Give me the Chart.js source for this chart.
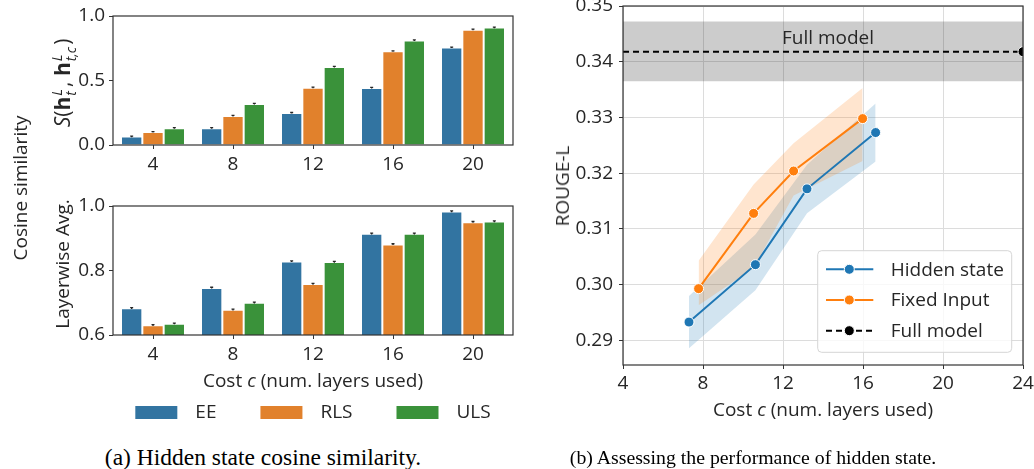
<!DOCTYPE html>
<html>
<head>
<meta charset="utf-8">
<script src="https://cdn.jsdelivr.net/npm/chart.js@4.4.1/dist/chart.umd.min.js"></script>
<style>
  body { margin: 0; width: 1034px; height: 469px; position: relative; overflow: hidden; background: #fff; color: #262626; font-family: 'Open Sans', sans-serif; }
  canvas { position: absolute; }
  .lbl { position: absolute; white-space: nowrap; font-size: 19px; transform: translate(-50%, -50%); }
  .rot { transform: translate(-50%, -50%) rotate(-90deg); }
  .cap { font-family: 'Liberation Serif', serif; color: #000; }
  .math { font-size: 21px; }
  .ss { display: inline-block; vertical-align: middle; font-size: 14px; line-height: 14px; text-align: left; margin-left: 1px; margin-right: 2px; }
  .ss i { display: block; }
</style>
</head>
<body>
<canvas id="simChart" width="530" height="175" style="left:0;top:0"></canvas>
<canvas id="layerChart" width="530" height="240" style="left:0;top:190px"></canvas>
<canvas id="rougeChart" width="494" height="469" style="left:540px;top:0"></canvas>

<div class="lbl rot" style="left:20px;top:188px">Cosine similarity</div>
<div class="lbl rot math" style="left:63px;top:83px"><i>S</i>(<b>h</b><span class="ss"><i>L</i><i>t</i></span>, <b>h</b><span class="ss"><i>L</i><i>t,c</i></span>)</div>
<div class="lbl rot" style="left:62px;top:264px">Layerwise Avg.</div>
<div class="lbl" style="left:313px;top:380px">Cost <i>c</i> (num. layers used)</div>
<div class="lbl rot" style="left:562px;top:186px">ROUGE-L</div>
<div class="lbl" style="left:823px;top:409px">Cost <i>c</i> (num. layers used)</div>
<div class="lbl cap" style="left:263px;top:457px;font-size:23.5px">(a) Hidden state cosine similarity.</div>
<div class="lbl cap" style="left:753px;top:457px;font-size:19.8px">(b) Assessing the performance of hidden state.</div>

<script>
// left panel: bars per cost
const costs = ['4', '8', '12', '16', '20']
const methods = ['EE', 'RLS', 'ULS']
const methodColors = ['#3274a1', '#e1812c', '#3a923a']

const simEE = [0.065, 0.13, 0.248, 0.442, 0.755]
const simRLS = [0.10, 0.225, 0.444, 0.726, 0.894]
const simULS = [0.13, 0.318, 0.605, 0.811, 0.91]
const simErr = [0.004, 0.004, 0.004, 0.004, 0.004]
const simTicks = [0, 0.5, 1.0]

const layerEE = [0.683, 0.746, 0.828, 0.914, 0.983]
const layerRLS = [0.630, 0.678, 0.758, 0.881, 0.950]
const layerULS = [0.635, 0.700, 0.826, 0.914, 0.952]
const layerErr = [0.002, 0.002, 0.002, 0.002, 0.002]
const layerTicks = [0.6, 0.8, 1.0]

// right panel: ROUGE-L vs cost
const hiddenCost = [7.3, 10.62, 13.2, 16.63]
const hiddenRouge = [0.2933, 0.3036, 0.3172, 0.3273]
const hiddenLow = [0.2886, 0.2990, 0.3128, 0.3221]
const hiddenHigh = [0.2980, 0.3090, 0.3215, 0.3325]

const fixedCost = [7.78, 10.53, 12.53, 15.98]
const fixedRouge = [0.2993, 0.3128, 0.3204, 0.3298]
const fixedLow = [0.2963, 0.3030, 0.3160, 0.3222]
const fixedHigh = [0.3043, 0.3180, 0.3254, 0.3353]

const fullSpan = [4, 24]
const fullRouge = 0.3418
const fullLow = 0.3365
const fullHigh = 0.3472

const costTicks = [4, 8, 12, 16, 20, 24]
const rougeTicks = [0.29, 0.30, 0.31, 0.32, 0.33, 0.34, 0.35]

const axisColor = '#333'
const textColor = '#262626'
Chart.defaults.font.family = "'Open Sans', sans-serif"
Chart.defaults.font.size = 19
Chart.defaults.color = textColor

// box around the plot area
const frame = {
  id: 'frame',
  afterDraw(chart) {
    const { left, top, width, height } = chart.chartArea
    const ctx = chart.ctx
    ctx.save()
    ctx.strokeStyle = axisColor
    ctx.lineWidth = 1.2
    ctx.strokeRect(left, top, width, height)
    ctx.restore()
  }
}

const errorBars = {
  id: 'errorBars',
  afterDatasetsDraw(chart) {
    const ctx = chart.ctx
    const y = chart.scales.y
    ctx.save()
    ctx.strokeStyle = textColor
    ctx.lineWidth = 1.3
    chart.data.datasets.forEach((ds, i) => {
      chart.getDatasetMeta(i).data.forEach((bar, j) => {
        const lo = y.getPixelForValue(ds.data[j] - ds.err[j])
        const hi = y.getPixelForValue(ds.data[j] + ds.err[j])
        ctx.beginPath()
        ctx.moveTo(bar.x, lo)
        ctx.lineTo(bar.x, hi)
        ctx.moveTo(bar.x - 1.5, hi)
        ctx.lineTo(bar.x + 1.5, hi)
        ctx.stroke()
      })
    })
    ctx.restore()
  }
}

// legend row under the lower bar chart
const barLegend = {
  id: 'barLegend',
  afterDraw(chart) {
    const ctx = chart.ctx
    const area = chart.chartArea
    const sets = chart.data.datasets
    ctx.save()
    ctx.font = Chart.defaults.font.size + 'px ' + Chart.defaults.font.family
    ctx.textBaseline = 'middle'
    const sw = 42, gap = 18, spacing = 44
    const widths = sets.map(ds => ctx.measureText(ds.label).width)
    const total = widths.reduce((a, w) => a + sw + gap + w, 0) + spacing * (sets.length - 1)
    let x = (area.left + area.right) / 2 - total / 2
    const top = area.bottom + 71
    sets.forEach((ds, i) => {
      ctx.fillStyle = ds.backgroundColor
      ctx.fillRect(x, top, sw, 13)
      ctx.fillStyle = textColor
      ctx.fillText(ds.label, x + sw + gap, top + 7)
      x += sw + gap + widths[i] + spacing
    })
    ctx.restore()
  }
}

// keep tick labels from pushing the plot area around
const noPad = (s) => { s.paddingTop = 0; s.paddingBottom = 0; s.paddingLeft = 0; s.paddingRight = 0 }

function barChart(id, values, err, ticks, min, max, withLegend) {
  return new Chart(document.getElementById(id), {
    type: 'bar',
    data: {
      labels: costs,
      datasets: methods.map((m, i) => ({
        label: m,
        data: values[i],
        err: err,
        backgroundColor: methodColors[i],
        borderColor: 'rgba(255,255,255,0.7)',
        borderWidth: 1,
        borderSkipped: 'start',
        barPercentage: 1,
        categoryPercentage: 0.8
      }))
    },
    options: {
      responsive: false,
      animation: false,
      events: [],
      layout: { padding: { top: 16, right: 17, left: 0, bottom: 0 } },
      plugins: { legend: { display: false }, tooltip: { enabled: false } },
      scales: {
        x: {
          grid: { offset: false, drawOnChartArea: false, tickLength: 4, tickColor: axisColor },
          border: { display: false },
          ticks: { padding: 4 },
          afterFit: (s) => { s.height = id === 'simChart' ? 30 : 95; noPad(s) }
        },
        y: {
          min: min,
          max: max,
          afterBuildTicks: (s) => { s.ticks = ticks.map(v => ({ value: v })) },
          grid: { drawOnChartArea: false, tickLength: 4, tickColor: axisColor },
          border: { display: false },
          ticks: { padding: 4, callback: (v) => v.toFixed(1) },
          afterFit: (s) => { s.width = 113; noPad(s) }
        }
      }
    },
    plugins: withLegend ? [errorBars, frame, barLegend] : [errorBars, frame]
  })
}

barChart('simChart', [simEE, simRLS, simULS], simErr, simTicks, 0, 1, false)
barChart('layerChart', [layerEE, layerRLS, layerULS], layerErr, layerTicks, 0.6, 1, true)

const xy = (xs, ys) => xs.map((x, i) => ({ x: x, y: ys[i] }))
const flat = (v) => fullSpan.map(x => ({ x: x, y: v }))

const blue = '#1f77b4'
const orange = '#ff7f0e'

const bandSet = (data, color, fill, order) => ({
  data: data, borderWidth: 0, pointRadius: 0, backgroundColor: color, fill: fill, order: order
})

// "Full model" caption + legend drawn inside the plot
const rougeExtras = {
  id: 'rougeExtras',
  afterDraw(chart) {
    const ctx = chart.ctx
    const { x, y } = chart.scales
    const area = chart.chartArea
    ctx.save()
    ctx.font = Chart.defaults.font.size + 'px ' + Chart.defaults.font.family
    ctx.fillStyle = textColor
    ctx.textAlign = 'center'
    ctx.textBaseline = 'middle'
    ctx.fillText('Full model', x.getPixelForValue(14.25), y.getPixelForValue(0.3441))

    const bw = 194, bh = 101.6
    const bx = area.right - 11.3 - bw
    const by = area.bottom - 12.7 - bh
    ctx.beginPath()
    ctx.roundRect(bx, by, bw, bh, 4)
    ctx.fillStyle = 'rgba(255,255,255,0.8)'
    ctx.fill()
    ctx.strokeStyle = '#d5d5d5'
    ctx.lineWidth = 1
    ctx.stroke()

    const rows = [
      { label: 'Hidden state', color: blue, dash: [] },
      { label: 'Fixed Input', color: orange, dash: [] },
      { label: 'Full model', color: '#000', dash: [6, 4] }
    ]
    ctx.textAlign = 'left'
    rows.forEach((r, i) => {
      const ry = by + 18.6 + i * 30.7
      ctx.beginPath()
      ctx.setLineDash(r.dash)
      ctx.strokeStyle = r.color
      ctx.lineWidth = 2
      ctx.moveTo(bx + 8.3, ry)
      ctx.lineTo(bx + 55.6, ry)
      ctx.stroke()
      ctx.setLineDash([])
      ctx.beginPath()
      ctx.arc(bx + 31.6, ry, 5, 0, Math.PI * 2)
      ctx.fillStyle = r.color
      ctx.fill()
      ctx.strokeStyle = '#fff'
      ctx.lineWidth = 1
      ctx.stroke()
      ctx.fillStyle = textColor
      ctx.fillText(r.label, bx + 73, ry + 1)
    })
    ctx.restore()
  }
}

new Chart(document.getElementById('rougeChart'), {
  type: 'line',
  data: {
    datasets: [
      {
        label: 'Hidden state', data: xy(hiddenCost, hiddenRouge), borderColor: blue, backgroundColor: blue,
        borderWidth: 2, pointRadius: 5, pointBorderColor: '#fff', pointBorderWidth: 1, order: 0
      },
      {
        label: 'Fixed Input', data: xy(fixedCost, fixedRouge), borderColor: orange, backgroundColor: orange,
        borderWidth: 2, pointRadius: 5, pointBorderColor: '#fff', pointBorderWidth: 1, order: 1
      },
      {
        label: 'Full model', data: flat(fullRouge), borderColor: '#000', backgroundColor: '#000',
        borderWidth: 2, borderDash: [6, 4], pointRadius: [0, 5], pointBorderColor: '#fff', pointBorderWidth: 1,
        order: 2, clip: 0
      },
      bandSet(xy(hiddenCost, hiddenLow), 'rgba(31,119,180,0.2)', false, 5),
      bandSet(xy(hiddenCost, hiddenHigh), 'rgba(31,119,180,0.2)', '-1', 5),
      bandSet(xy(fixedCost, fixedLow), 'rgba(255,127,14,0.2)', false, 4),
      bandSet(xy(fixedCost, fixedHigh), 'rgba(255,127,14,0.2)', '-1', 4),
      bandSet(flat(fullLow), 'rgba(0,0,0,0.2)', false, 6),
      bandSet(flat(fullHigh), 'rgba(0,0,0,0.2)', '-1', 6)
    ]
  },
  options: {
    responsive: false,
    animation: false,
    events: [],
    layout: { padding: { top: 5, right: 11, left: 0, bottom: 0 } },
    plugins: { legend: { display: false }, tooltip: { enabled: false } },
    scales: {
      x: {
        type: 'linear',
        min: 4,
        max: 24,
        afterBuildTicks: (s) => { s.ticks = costTicks.map(v => ({ value: v })) },
        grid: { color: '#dcdcdc', tickLength: 4, tickColor: axisColor },
        border: { display: false },
        ticks: { padding: 3 },
        afterFit: (s) => { s.height = 104; noPad(s) }
      },
      y: {
        min: 0.2856,
        max: 0.35,
        afterBuildTicks: (s) => { s.ticks = rougeTicks.map(v => ({ value: v })) },
        grid: { color: '#dcdcdc', tickLength: 4, tickColor: axisColor },
        border: { display: false },
        ticks: { padding: 6, callback: (v) => v.toFixed(2) },
        afterFit: (s) => { s.width = 83; noPad(s) }
      }
    }
  },
  plugins: [frame, rougeExtras]
})
</script>
</body>
</html>
